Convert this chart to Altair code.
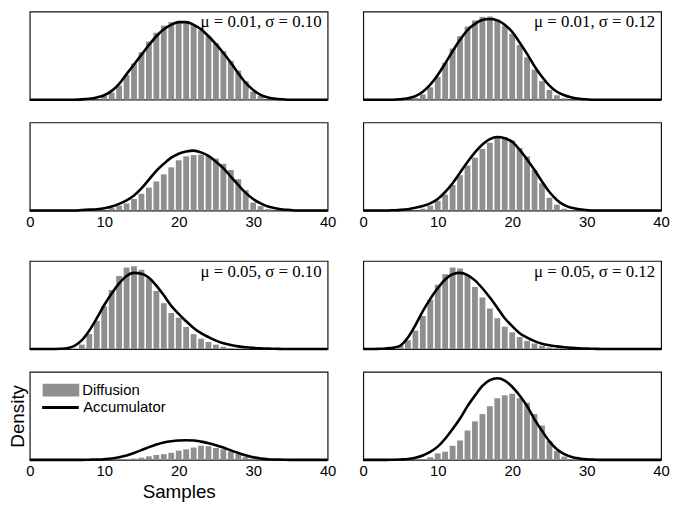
import altair as alt
import pandas as pd

TICKS = [0, 10, 20, 30, 40]

# Accumulator curves: relative density read at integer sample counts, from a start index
acc_p1_start = 7
acc_p1 = [0.003, 0.01, 0.025, 0.05, 0.10, 0.18, 0.29, 0.40, 0.51, 0.62, 0.72, 0.80, 0.85, 0.88,
          0.88, 0.85, 0.80, 0.72, 0.63, 0.53, 0.42, 0.30, 0.19, 0.11, 0.055, 0.025, 0.01, 0.004]
acc_p2_start = 5
acc_p2 = [0.005, 0.015, 0.04, 0.09, 0.17, 0.28, 0.41, 0.55, 0.68, 0.79, 0.86, 0.905, 0.915, 0.90,
          0.85, 0.77, 0.65, 0.52, 0.38, 0.26, 0.16, 0.09, 0.05, 0.025, 0.01, 0.004]
acc_p3_start = 7
acc_p3 = [0.005, 0.01, 0.015, 0.025, 0.045, 0.075, 0.115, 0.17, 0.25, 0.35, 0.45, 0.53, 0.60, 0.645,
          0.67, 0.68, 0.66, 0.62, 0.555, 0.48, 0.385, 0.29, 0.20, 0.13, 0.08, 0.045, 0.025, 0.012, 0.006]
acc_p4_start = 4
acc_p4 = [0.003, 0.007, 0.015, 0.03, 0.05, 0.08, 0.13, 0.21, 0.31, 0.43, 0.55, 0.66, 0.75, 0.81,
          0.835, 0.82, 0.78, 0.69, 0.58, 0.46, 0.33, 0.21, 0.12, 0.06, 0.03, 0.013, 0.005]
acc_p5_start = 4
acc_p5 = [0.003, 0.01, 0.035, 0.10, 0.21, 0.35, 0.50, 0.63, 0.745, 0.83, 0.865, 0.855, 0.81, 0.72,
          0.61, 0.49, 0.40, 0.315, 0.24, 0.18, 0.135, 0.095, 0.065, 0.045, 0.03, 0.02, 0.013, 0.008,
          0.005, 0.003]
acc_p6_start = 2
acc_p6 = [0.002, 0.006, 0.015, 0.04, 0.13, 0.27, 0.43, 0.57, 0.69, 0.79, 0.85, 0.865, 0.84, 0.78,
          0.69, 0.585, 0.47, 0.35, 0.26, 0.18, 0.13, 0.09, 0.06, 0.042, 0.03, 0.02, 0.013, 0.008,
          0.005, 0.003]
acc_p7_start = 8
acc_p7 = [0.002, 0.004, 0.008, 0.015, 0.03, 0.05, 0.078, 0.11, 0.145, 0.175, 0.198, 0.212, 0.22,
          0.222, 0.22, 0.207, 0.19, 0.167, 0.14, 0.108, 0.078, 0.052, 0.03, 0.016, 0.008, 0.004, 0.002]
acc_p8_start = 4
acc_p8 = [0.002, 0.005, 0.01, 0.025, 0.05, 0.09, 0.15, 0.24, 0.35, 0.47, 0.61, 0.73, 0.84, 0.905,
          0.926, 0.90, 0.83, 0.73, 0.61, 0.46, 0.33, 0.21, 0.12, 0.065, 0.032, 0.016, 0.007, 0.003]

# Diffusion histograms: bar heights at integer sample counts, from a start index
diff_p1_start = 10
diff_p1 = [0.04, 0.08, 0.16, 0.28, 0.41, 0.54, 0.66, 0.76, 0.84, 0.88, 0.89, 0.88, 0.85, 0.79,
           0.72, 0.64, 0.55, 0.44, 0.33, 0.21, 0.09, 0.045]
diff_p2_start = 7
diff_p2 = [0.02, 0.06, 0.14, 0.26, 0.42, 0.58, 0.72, 0.83, 0.90, 0.94, 0.945, 0.91, 0.84, 0.75,
           0.62, 0.48, 0.34, 0.21, 0.11, 0.05, 0.015]
diff_p3_start = 11
diff_p3 = [0.03, 0.055, 0.08, 0.13, 0.19, 0.26, 0.33, 0.41, 0.49, 0.57, 0.615, 0.63, 0.635, 0.62,
           0.59, 0.53, 0.46, 0.355, 0.23, 0.09, 0.05, 0.015]
diff_p4_start = 8
diff_p4 = [0.02, 0.055, 0.11, 0.18, 0.29, 0.40, 0.51, 0.60, 0.70, 0.77, 0.835, 0.835, 0.795, 0.71,
           0.615, 0.46, 0.31, 0.145, 0.066, 0.02]
diff_p5_start = 7
diff_p5 = [0.05, 0.17, 0.32, 0.485, 0.67, 0.83, 0.925, 0.94, 0.90, 0.80, 0.66, 0.52, 0.41, 0.355,
           0.25, 0.17, 0.118, 0.08, 0.05, 0.026, 0.01]
diff_p6_start = 5
diff_p6 = [0.04, 0.10, 0.21, 0.375, 0.56, 0.73, 0.85, 0.925, 0.915, 0.835, 0.705, 0.585, 0.46, 0.35,
           0.254, 0.19, 0.136, 0.092, 0.0625, 0.037, 0.018, 0.008]
diff_p7_start = 14
diff_p7 = [0.015, 0.025, 0.04, 0.055, 0.065, 0.08, 0.105, 0.12, 0.14, 0.16, 0.155, 0.135, 0.12,
           0.095, 0.067, 0.037, 0.015]
diff_p8_start = 9
diff_p8 = [0.03, 0.074, 0.093, 0.16, 0.22, 0.333, 0.437, 0.52, 0.61, 0.70, 0.733, 0.75, 0.70, 0.65,
           0.52, 0.39, 0.215, 0.10, 0.037]

label_p1 = "μ = 0.01, σ = 0.10"
label_p2 = "μ = 0.01, σ = 0.12"
label_p5 = "μ = 0.05, σ = 0.10"
label_p6 = "μ = 0.05, σ = 0.12"

W, H = 301, 89
GRAY = "#8f8f8f"
SANS = "Liberation Sans"
SERIF = "Liberation Serif"


def curve_table(start, values):
    full = [0.0] * 41
    for k, v in enumerate(values):
        full[start + k] = v
    return pd.DataFrame({"samples": list(range(41)), "density": full, "series": "Accumulator"})


def bar_table(start, values):
    return pd.DataFrame({"samples": [start + k for k in range(len(values))],
                         "density": values, "series": "Diffusion"})


def panel(bars, curve, label=None, xlabels=False, legend=False):
    xs = alt.Scale(domain=[0, 40], nice=False, zero=False)
    ys = alt.Scale(domain=[0, 1], nice=False)
    if xlabels:
        xaxis = alt.Axis(values=TICKS, ticks=False, domain=False, grid=False,
                         labelFont=SANS, labelFontSize=15, labelColor="black",
                         labelPadding=4, labelFlush=False,
                         titleFont=SANS, titleFontSize=19, titleFontWeight="normal",
                         titleColor="black", titlePadding=4)
    else:
        xaxis = None
    xtitle = "Samples" if legend else None
    if legend:
        yaxis = alt.Axis(labels=False, ticks=False, domain=False, grid=False,
                         titleFont=SANS, titleFontSize=19, titleFontWeight="normal",
                         titleColor="black", titlePadding=2)
        ytitle = "Density"
    else:
        yaxis = None
        ytitle = None

    bar_enc = dict(
        x=alt.X("lo:Q", scale=xs, axis=xaxis, title=xtitle),
        x2="hi:Q",
        y=alt.Y("density:Q", scale=ys, axis=yaxis, title=ytitle),
        y2=alt.datum(0),
    )
    line_enc = dict(
        x=alt.X("samples:Q", scale=xs, axis=xaxis, title=xtitle),
        y=alt.Y("density:Q", scale=ys, axis=yaxis, title=ytitle),
    )
    if legend:
        bar_enc["fill"] = alt.Fill(
            "series:N", scale=alt.Scale(domain=["Diffusion"], range=[GRAY]),
            legend=alt.Legend(title=None, orient="none", legendX=13, legendY=364,
                              symbolType="M-1,-0.35H1V0.35H-1Z", symbolSize=1369,
                              symbolStrokeWidth=0, symbolOpacity=1,
                              labelFont=SANS, labelFontSize=15, labelColor="black",
                              labelOffset=3))
        line_enc["stroke"] = alt.Stroke(
            "series:N", scale=alt.Scale(domain=["Accumulator"], range=["black"]),
            legend=alt.Legend(title=None, orient="none", legendX=11, legendY=380,
                              symbolType="stroke", symbolSize=1369, symbolStrokeWidth=3,
                              labelFont=SANS, labelFontSize=15, labelColor="black",
                              labelOffset=3))
    bar_layer = alt.Chart(bar_table(*bars)).transform_calculate(
        lo="datum.samples - 0.39", hi="datum.samples + 0.39"
    ).mark_bar(color=GRAY).encode(**bar_enc)
    line_layer = alt.Chart(curve_table(*curve)).mark_line(
        color="black", strokeWidth=2.6, interpolate="monotone").encode(**line_enc)
    layers = [bar_layer, line_layer]
    if label:
        txt = alt.Chart(pd.DataFrame({"label": [label]})).mark_text(
            align="right", baseline="top", font=SERIF, fontSize=17, color="black"
        ).encode(x=alt.value(W - 6), y=alt.value(3), text="label:N")
        layers.append(txt)
    return alt.layer(*layers).properties(width=W, height=H)


def spacer():
    return alt.Chart(pd.DataFrame({"v": [0]})).mark_point(opacity=0).encode(
        x=alt.X("v:Q", axis=None), y=alt.Y("v:Q", axis=None)
    ).properties(width=W, height=5, view=alt.ViewBackground(strokeOpacity=0))


p1 = panel((diff_p1_start, diff_p1), (acc_p1_start, acc_p1), label=label_p1)
p2 = panel((diff_p2_start, diff_p2), (acc_p2_start, acc_p2), label=label_p2)
p3 = panel((diff_p3_start, diff_p3), (acc_p3_start, acc_p3), xlabels=True)
p4 = panel((diff_p4_start, diff_p4), (acc_p4_start, acc_p4), xlabels=True)
p5 = panel((diff_p5_start, diff_p5), (acc_p5_start, acc_p5), label=label_p5)
p6 = panel((diff_p6_start, diff_p6), (acc_p6_start, acc_p6), label=label_p6)
p7 = panel((diff_p7_start, diff_p7), (acc_p7_start, acc_p7), xlabels=True, legend=True)
p8 = panel((diff_p8_start, diff_p8), (acc_p8_start, acc_p8), xlabels=True)

chart = alt.concat(
    p1, p2, p3, p4, spacer(), spacer(), p5, p6, p7, p8,
    columns=2,
    spacing=alt.RowColnumber(row=23, column=36),
    bounds="flush",
    align="each",
).properties(
    padding={"left": 0, "top": 0, "right": 2, "bottom": 2},
    background="white",
).configure_view(stroke="#111111", strokeWidth=1.2)

chart.save("out.html", embed_options={"renderer": "svg", "actions": False})
